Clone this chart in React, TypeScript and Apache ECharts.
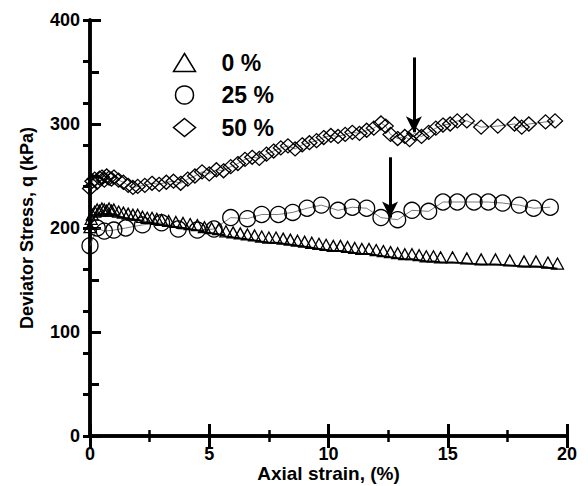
import React, { useEffect, useRef } from "react";
import * as echarts from "echarts";

const FONT = "'Liberation Sans', Arial, Helvetica, sans-serif";

const legendNames = ["0 %", "25 %", "50 %"];
const legendIcons = ["triangle", "circle", "diamond"];

// 0 % series (triangles) – strain (%) and deviator stress (kPa)
const strain0 = [0.0, 0.05, 0.1, 0.2, 0.3, 0.4, 0.5, 0.6, 0.7, 0.8, 0.9, 1.0, 1.2, 1.4, 1.6, 1.8, 2.0, 2.2, 2.4, 2.6, 2.8, 3.0, 3.3, 3.6, 3.9, 4.2, 4.5, 4.8, 5.1, 5.4, 5.7, 6.0, 6.3, 6.6, 6.9, 7.2, 7.5, 7.8, 8.1, 8.4, 8.7, 9.0, 9.3, 9.6, 9.9, 10.2, 10.5, 10.8, 11.1, 11.4, 11.7, 12.0, 12.3, 12.6, 12.9, 13.2, 13.5, 13.8, 14.1, 14.4, 14.7, 15.2, 15.8, 16.4, 17.0, 17.6, 18.2, 18.7, 19.2, 19.6];
const stress0 = [196, 204, 208, 211, 213, 212, 214, 213, 212, 214, 212, 213, 211, 210, 209, 208, 208, 206, 205, 205, 204, 203, 202, 201, 200, 199, 198, 196, 195, 194, 192, 191, 190, 189, 188, 187, 186, 186, 185, 184, 183, 182, 181, 180, 179, 178, 178, 177, 176, 175, 175, 174, 173, 172, 171, 170, 170, 169, 168, 168, 167, 167, 166, 165, 165, 164, 163, 163, 162, 161];

// 25 % series (circles)
const strain25 = [0.0, 0.3, 0.6, 1.0, 1.5, 2.2, 3.0, 3.7, 4.5, 5.2, 5.9, 6.6, 7.2, 7.9, 8.5, 9.1, 9.7, 10.4, 11.0, 11.6, 12.2, 12.9, 13.5, 14.2, 14.8, 15.4, 16.1, 16.7, 17.3, 18.0, 18.6, 19.3];
const stress25 = [183, 200, 197, 198, 200, 203, 205, 199, 198, 199, 210, 209, 213, 213, 215, 219, 222, 217, 220, 219, 210, 208, 217, 216, 225, 225, 225, 225, 224, 222, 219, 220];

// 50 % series (diamonds)
const strain50 = [0.0, 0.1, 0.2, 0.3, 0.4, 0.5, 0.6, 0.7, 0.8, 0.9, 1.0, 1.2, 1.4, 1.6, 1.8, 2.0, 2.3, 2.6, 2.9, 3.2, 3.5, 3.8, 4.1, 4.4, 4.7, 5.0, 5.3, 5.6, 5.9, 6.2, 6.5, 6.8, 7.1, 7.4, 7.7, 8.0, 8.3, 8.6, 8.9, 9.2, 9.5, 9.8, 10.1, 10.4, 10.7, 11.0, 11.3, 11.6, 11.9, 12.2, 12.4, 12.6, 12.9, 13.2, 13.4, 13.6, 13.9, 14.2, 14.5, 14.8, 15.1, 15.4, 15.8, 16.4, 17.1, 17.8, 18.1, 18.4, 19.1, 19.5];
const stress50 = [238, 245, 247, 244, 248, 249, 246, 250, 248, 247, 249, 246, 244, 241, 239, 240, 241, 243, 242, 244, 245, 243, 247, 250, 254, 252, 256, 255, 259, 262, 266, 268, 267, 271, 274, 277, 279, 276, 280, 282, 284, 287, 289, 288, 290, 292, 291, 294, 296, 301, 298, 290, 286, 288, 285, 291, 288, 292, 296, 299, 300, 303, 303, 297, 298, 300, 297, 300, 302, 303];

// Arrow annotations: [strain, start stress, end stress]
const arrow1 = [13.58, 364, 292];
const arrow2 = [12.58, 268, 210];

const xTicks = { min: 0, max: 20, interval: 5 };
const yTicks = { min: 0, max: 400, interval: 100 };

const zip = (xs: number[], ys: number[]) => xs.map((x, i) => [x, ys[i]]);

export default function App() {
  const ref = useRef<HTMLDivElement>(null);
  useEffect(() => {
    if (!ref.current) return;
    const chart = echarts.init(ref.current, null, { renderer: "svg" });
    const axisLineStyle = { color: "#000", width: 3.5 };
    const labelStyle = { color: "#000", fontSize: 18, fontWeight: "bold" as const, fontFamily: FONT };
    const symStyle = { color: "none", borderColor: "#000", borderWidth: 1.3 };
    chart.setOption({
      animation: false,
      backgroundColor: "#fff",
      grid: { left: 90, right: 21, top: 20, bottom: 50, containLabel: false, outerBoundsMode: "none" },
      legend: {
        orient: "vertical",
        left: 166,
        top: 46,
        itemWidth: 22,
        itemHeight: 18,
        itemGap: 9.5,
        selectedMode: false,
        textStyle: { color: "#000", fontSize: 23, fontWeight: "bold", fontFamily: FONT, padding: [0, 0, 0, 21] },
        data: legendNames.map((n, i) => ({
          name: n,
          icon: legendIcons[i],
          itemStyle: { color: "none", borderColor: "#000", borderWidth: 1.5 },
        })),
      },
      xAxis: [
        {
          type: "value",
          ...xTicks,
          position: "bottom",
          name: "Axial strain, (%)",
          nameLocation: "middle",
          nameGap: 28,
          nameMoveOverlap: false,
          nameTextStyle: { color: "#000", fontSize: 19, fontWeight: "bold", fontFamily: FONT },
          axisLine: { lineStyle: axisLineStyle },
          axisTick: { inside: true, length: 12, lineStyle: { color: "#000", width: 3 } },
          minorTick: { show: true, splitNumber: 2, length: 6, lineStyle: { color: "#000", width: 2.5 } },
          splitLine: { show: false },
          axisLabel: { ...labelStyle, margin: 9, lineHeight: 18 },
        },
        {
          type: "value",
          ...xTicks,
          position: "top",
          axisLine: { lineStyle: axisLineStyle },
          axisTick: { inside: true, length: 12, lineStyle: { color: "#000", width: 3 } },
          minorTick: { show: true, splitNumber: 2, length: 6, lineStyle: { color: "#000", width: 2.5 } },
          splitLine: { show: false },
          axisLabel: { show: false },
        },
      ],
      yAxis: [
        {
          type: "value",
          ...yTicks,
          position: "left",
          name: "Deviator Stress, q (kPa)",
          nameLocation: "middle",
          nameGap: 54,
          nameMoveOverlap: false,
          nameTextStyle: { color: "#000", fontSize: 18, fontWeight: "bold", fontFamily: FONT },
          axisLine: { lineStyle: axisLineStyle },
          axisTick: { inside: true, length: 11, lineStyle: { color: "#000", width: 3 } },
          minorTick: { show: true, splitNumber: 2, length: 9, lineStyle: { color: "#000", width: 3 } },
          splitLine: { show: false },
          axisLabel: { ...labelStyle, margin: 10 },
        },
        {
          type: "value",
          min: 0,
          max: 400,
          interval: 40,
          position: "right",
          axisLine: { lineStyle: axisLineStyle },
          axisTick: { inside: true, length: 7, lineStyle: { color: "#000", width: 3 } },
          splitLine: { show: false },
          axisLabel: { show: false },
        },
      ],
      series: [
        {
          name: legendNames[0],
          type: "line",
          data: zip(strain0, stress0),
          symbol: "triangle",
          symbolSize: [12, 11],
          symbolOffset: [0, -5],
          itemStyle: symStyle,
          lineStyle: { color: "#000", width: 1.8 },
          z: 3,
        },
        {
          name: legendNames[1],
          type: "line",
          data: zip(strain25, stress25),
          symbol: "circle",
          symbolSize: 16,
          itemStyle: symStyle,
          lineStyle: { color: "#555", width: 0.8 },
          z: 3,
        },
        {
          name: legendNames[2],
          type: "line",
          data: zip(strain50, stress50),
          symbol: "diamond",
          symbolSize: [15, 14],
          itemStyle: symStyle,
          lineStyle: { color: "#555", width: 0.8 },
          z: 3,
          markLine: {
            silent: true,
            symbol: ["none", "arrow"],
            symbolSize: [12, 16],
            label: { show: false },
            lineStyle: { color: "#000", width: 3, type: "solid" },
            itemStyle: { color: "#000" },
            data: [
              [{ coord: [arrow1[0], arrow1[1]] }, { coord: [arrow1[0], arrow1[2]] }],
              [{ coord: [arrow2[0], arrow2[1]] }, { coord: [arrow2[0], arrow2[2]] }],
            ],
          },
        },
      ],
    });
    return () => chart.dispose();
  }, []);
  return (
    <div
      ref={ref}
      style={{ position: "fixed", left: 0, top: 0, width: 588, height: 486, background: "#fff" }}
    />
  );
}
